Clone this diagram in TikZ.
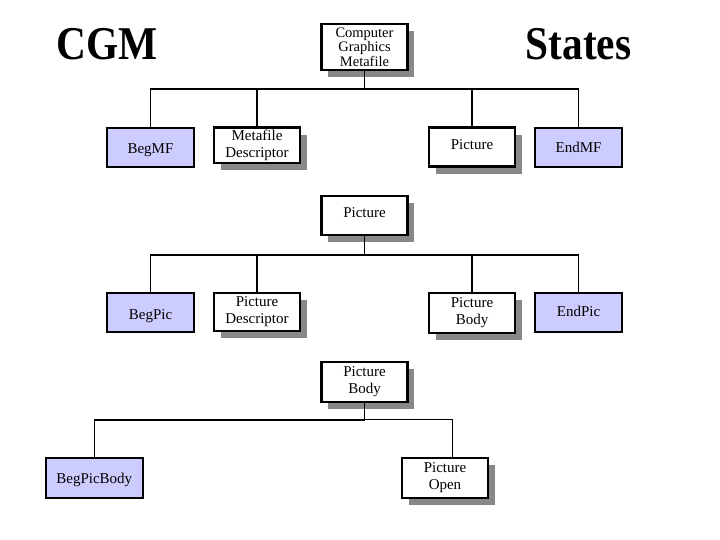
\documentclass[tikz,border=0pt]{standalone}
\usepackage{fontspec}
\setmainfont{Liberation Serif}
\newfontfamily\titlefont[FakeStretch=0.88]{Liberation Serif}
\usetikzlibrary{shadows}
\definecolor{bluefill}{RGB}{204,204,255}
\definecolor{shadowgray}{RGB}{136,136,136}
\begin{document}
\begin{tikzpicture}[x=1pt,y=-1pt,
  box/.style={draw=black, line width=2.4pt, fill=white, inner sep=1pt,
    minimum width=86pt, font=\fontsize{15}{17}\selectfont, align=center,
    drop shadow={shadow xshift=6.5pt, shadow yshift=-7pt, fill=shadowgray, opacity=1}},
  bluebox/.style={draw=black, line width=1.8pt, fill=bluefill, inner sep=1pt,
    minimum width=87pt, minimum height=39pt, font=\fontsize{15}{17}\selectfont},
  conn/.style={line width=1.6pt},
  thinconn/.style={line width=0.9pt},
  title/.style={font=\titlefont\fontsize{47}{50}\selectfont\bfseries}]
\useasboundingbox (0,0) rectangle (720,540);
\node[title] (cgmt) at (107,44) {CGM};
\node[title] (states) at (578.5,44) {States};
% tree 1
\node[box, minimum height=46pt, font=\fontsize{14.5}{12.5}\selectfont] (cgm) at (364.5,47.3) {Computer\\Graphics\\Metafile};
\node[bluebox, text height=16pt] (begmf) at (150.5,147.2) {BegMF};
\node[box, minimum height=35.6pt] (mdesc) at (257,145.5) {Metafile\\Descriptor};
\node[box, minimum height=39pt, text depth=6pt] (pic1) at (472,147.2) {Picture};
\node[bluebox] (endmf) at (578.5,147.2) {EndMF};
\coordinate (bus1) at (364.5,89.3);
\draw[conn] (cgm.south) -- (bus1);
\draw[conn] (begmf.north) |- (bus1) -| (endmf.north);
\draw[conn] (mdesc.north) -- (mdesc.north |- bus1);
\draw[conn] (pic1.north) -- (pic1.north |- bus1);
% tree 2
\node[box, minimum height=39pt, text depth=5pt] (pic2) at (364.5,215.5) {Picture};
\node[bluebox, text height=16pt] (begpic) at (150.5,312.8) {BegPic};
\node[box, minimum height=38pt] (pdesc) at (257,311.7) {Picture\\Descriptor};
\node[box, minimum height=40pt] (pbody) at (472,312.8) {Picture\\Body};
\node[bluebox, text depth=4pt] (endpic) at (578.5,312.8) {EndPic};
\coordinate (bus2) at (364.5,254.7);
\draw[conn] (pic2.south) -- (bus2);
\draw[conn] (begpic.north) |- (bus2) -| (endpic.north);
\draw[conn] (pdesc.north) -- (pdesc.north |- bus2);
\draw[conn] (pbody.north) -- (pbody.north |- bus2);
% tree 3
\node[box, minimum height=40pt] (pbody2) at (364.5,382) {Picture\\Body};
\node[bluebox, minimum width=96.7pt, minimum height=39.7pt, text height=14pt] (begpb) at (94.3,478.2) {BegPicBody};
\node[box, minimum height=40pt] (popen) at (445,478) {Picture\\Open};
\coordinate (bus3) at (364.5,419.7);
\coordinate (opentop) at (452.7,458);
\draw[conn] (pbody2.south) -- (bus3);
\draw[conn] (begpb.north) |- (bus3);
\draw[thinconn] (bus3) -| (opentop);
\end{tikzpicture}
\end{document}
